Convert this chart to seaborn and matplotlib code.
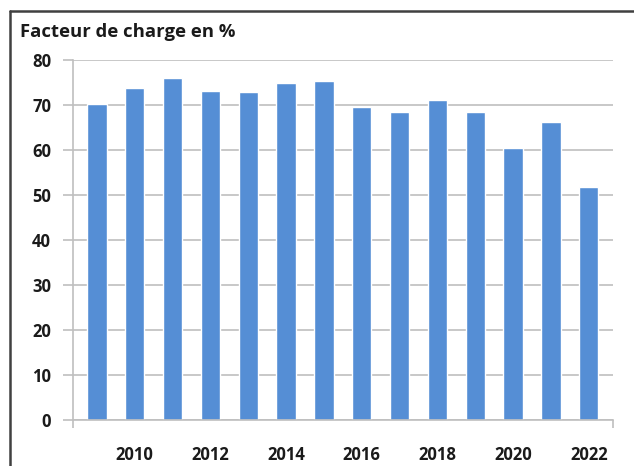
import matplotlib
matplotlib.use("Agg")
import matplotlib.pyplot as plt
import seaborn as sns
import pandas as pd
from matplotlib.lines import Line2D

years = [2009, 2010, 2011, 2012, 2013, 2014, 2015, 2016, 2017, 2018, 2019, 2020, 2021, 2022]
values = [70.3, 73.7, 76.0, 73.2, 72.9, 75.0, 75.3, 69.6, 68.5, 71.1, 68.5, 60.5, 66.2, 51.8]
yticks = [0, 10, 20, 30, 40, 50, 60, 70, 80]
title = "Facteur de charge en %"

sns.set_theme(style="white")
plt.rcParams['font.family'] = ['Open Sans', 'DejaVu Sans']

df = pd.DataFrame({"year": [str(y) for y in years], "value": values})

fig = plt.figure(figsize=(6.34, 4.66), dpi=100)
ax = fig.add_axes([72.7/634, 46/466, (613-72.7)/634, 360/466])
sns.barplot(data=df, x="year", y="value", color="#558ED5", saturation=1, width=0.51, ax=ax)

grid_c = "#BFBFBF"
text_c = "#1a1a1a"
xl, xr = -0.642, len(years) - 1 + 0.64

ax.set_ylim(0, 80)
ax.set_yticks(yticks)
ax.set_yticklabels([str(t) for t in yticks], fontsize=12, fontweight="bold", color=text_c)
ax.set_xlim(xl, xr)
ax.set_xticks(range(len(years)))
ax.set_xticklabels([str(y) if y % 2 == 0 else "" for y in years], fontsize=12, fontweight="bold", color=text_c)
ax.set_xticks([xl, xr], minor=True)
ax.set_xlabel("")
ax.set_ylabel("")
ax.yaxis.grid(True, color=grid_c, linewidth=1.2)
ax.set_axisbelow(True)
for s in ["top", "right"]:
    ax.spines[s].set_visible(False)
for s in ["left", "bottom"]:
    ax.spines[s].set_color(grid_c)
    ax.spines[s].set_linewidth(1.2)
ax.tick_params(axis="y", length=7, width=1.2, color=grid_c, pad=8.5, left=True)
ax.tick_params(axis="x", which="major", length=0, pad=19)
ax.tick_params(axis="x", which="minor", length=6, width=1.2, color=grid_c, bottom=True)

fig.text(20/634, 1 - 32/466, title, fontsize=13.3, fontweight="bold", color=text_c, va="center", ha="left")

# outer frame (top and left edges visible)
fig.add_artist(Line2D([10/634, 10/634], [0, 1 - 10.5/466], transform=fig.transFigure, color="#404040", linewidth=1.8))
fig.add_artist(Line2D([10/634, 1], [1 - 10.5/466, 1 - 10.5/466], transform=fig.transFigure, color="#404040", linewidth=1.8))

fig.savefig("out.png", dpi=100)
